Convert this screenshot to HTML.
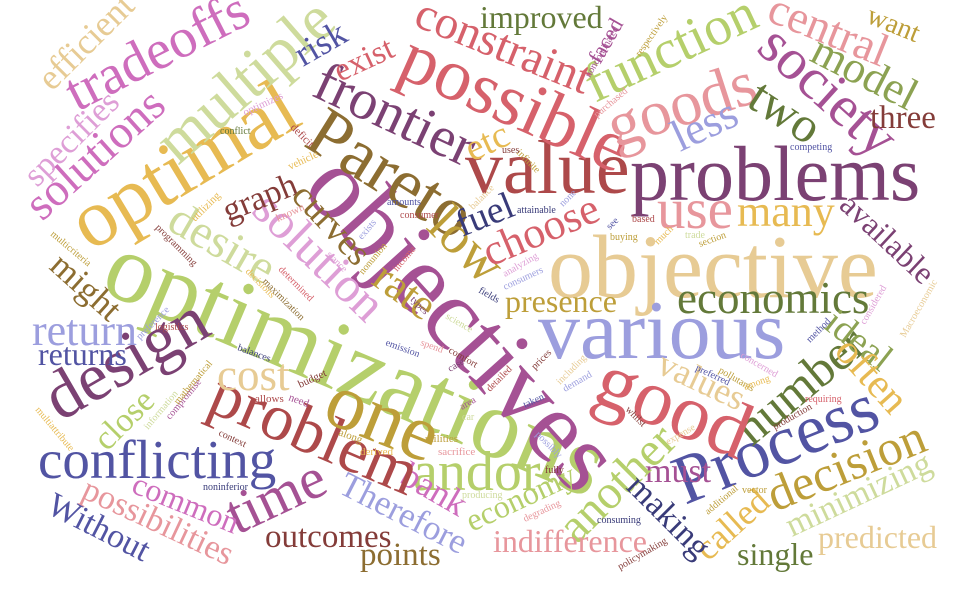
<!DOCTYPE html>
<html><head><meta charset="utf-8"><style>
html,body{margin:0;padding:0;background:#fff;}
svg{display:block;}
text{font-family:"Liberation Serif",serif;}
</style></head>
<body>
<svg id="cloud" width="960" height="600" viewBox="0 0 960 600" xmlns="http://www.w3.org/2000/svg"></svg>
<script>
// word, x, y, font-size, rotation, colour
const words = [
["objective",548,297,90,0,"#e7cb94"],
["problems",630,200,78,0,"#7b4173"],
["various",538,358,84,0,"#9c9ede"],
["value",465,193,76,0,"#ad494a"],
["optimizations",98,290,98,23,"#b5cf6b"],
["objectives",300,190,102,48,"#a55194"],
["Pareto",302,145,71,32,"#8c6d31"],
["optimal",90,252,82,-31,"#e7ba52"],
["multiple",178,166,64,-41,"#cedb9c"],
["possible",395,75,74,24,"#d6616b"],
["goods",615,148,64,-18,"#e7969c"],
["function",595,103,55,-25,"#b5cf6b"],
["constraint",412,25,47,22,"#d6616b"],
["frontier",310,95,57,25,"#7b4173"],
["society",755,50,58,42,"#a55194"],
["central",765,20,46,22,"#e7969c"],
["model",808,60,45,27,"#8ca252"],
["two",745,105,50,33,"#637939"],
["three",870,128,33,0,"#843c39"],
["want",865,22,28,22,"#bd9e39"],
["less",680,152,45,-25,"#9c9ede"],
["use",657,228,57,0,"#e7969c"],
["many",737,226,44,0,"#e7ba52"],
["available",838,207,32,43,"#7b4173"],
["economics",677,313,45,0,"#637939"],
["Process",685,505,70,-22,"#5254a3"],
["number",752,447,50,-40,"#637939"],
["ideal",822,327,38,38,"#8ca252"],
["often",833,352,42,48,"#e7ba52"],
["decision",775,512,50,-22,"#bd9e39"],
["minimizing",792,537,34,-25,"#cedb9c"],
["predicted",818,548,32,0,"#e7cb94"],
["single",737,565,32,0,"#637939"],
["called",708,562,36,-42,"#e7ba52"],
["good",590,400,80,22,"#d6616b"],
["values",655,372,36,25,"#e7cb94"],
["must",645,482,34,0,"#a55194"],
["another",577,545,48,-45,"#b5cf6b"],
["making",625,488,34,45,"#393b79"],
["andor",413,490,56,0,"#b5cf6b"],
["economy",472,532,32,-25,"#b5cf6b"],
["indifference",493,552,32,0,"#e7969c"],
["points",360,565,33,0,"#8c6d31"],
["outcomes",265,547,33,0,"#843c39"],
["Therefore",337,492,35,27,"#9c9ede"],
["bank",398,482,36,30,"#ce6dbd"],
["time",237,535,58,-25,"#a55194"],
["problem",205,410,66,23,"#ad494a"],
["one",320,420,80,22,"#bd9e39"],
["conflicting",38,478,55,0,"#5254a3"],
["design",60,422,68,-30,"#7b4173"],
["return",32,345,44,0,"#9c9ede"],
["returns",38,365,32,0,"#5254a3"],
["cost",217,390,45,0,"#e7cb94"],
["common",130,492,32,22,"#ce6dbd"],
["possibilities",80,497,34,25,"#e7969c"],
["Without",45,512,34,27,"#5254a3"],
["close",107,452,34,-45,"#b5cf6b"],
["might",48,268,35,42,"#8c6d31"],
["solution",250,212,50,44,"#de9ed6"],
["desire",165,228,48,30,"#cedb9c"],
["graph",228,222,34,-22,"#843c39"],
["curves",290,197,37,47,"#8c6d31"],
["rate",370,283,44,36,"#bd9e39"],
["low",425,228,55,45,"#bd9e39"],
["fuel",462,237,38,-22,"#393b79"],
["choose",490,267,44,-23,"#d6616b"],
["presence",505,312,32,0,"#bd9e39"],
["etc",472,162,38,-25,"#e7ba52"],
["exist",340,82,33,-25,"#d6616b"],
["risk",303,67,36,-30,"#5254a3"],
["tradeoffs",77,112,56,-27,"#ce6dbd"],
["efficient",52,92,36,-45,"#e7cb94"],
["solutions",42,222,47,-42,"#ce6dbd"],
["specifies",37,188,34,-45,"#de9ed6"],
["improved",480,28,32,0,"#637939"],
["conflict",220,134,10,0,"#637939"],
["optimizes",245,116,11,-25,"#de9ed6"],
["deficit",290,128,11,45,"#ad494a"],
["vehicle",290,170,11,-25,"#e7ba52"],
["utilizing",195,222,11,-45,"#e7ba52"],
["known",278,222,11,-25,"#e7969c"],
["programming",155,228,10,45,"#843c39"],
["multicriteria",50,235,10,40,"#bd9e39"],
["determined",278,270,10,45,"#d6616b"],
["maximization",262,282,10,45,"#8c6d31"],
["decisions",245,272,10,45,"#e7ba52"],
["preference",140,340,10,-45,"#9c9ede"],
["logistics",155,330,10,0,"#ad494a"],
["balances",237,350,10,20,"#393b79"],
["compromise",170,420,10,-50,"#a55194"],
["mathematical",178,405,10,-50,"#bd9e39"],
["information",148,430,10,-50,"#cedb9c"],
["context",218,435,10,25,"#843c39"],
["allows",255,402,11,0,"#ad494a"],
["need",288,400,11,20,"#a55194"],
["budget",300,388,11,-25,"#843c39"],
["along",338,435,11,20,"#bd9e39"],
["derived",360,455,11,0,"#e7ba52"],
["utilities",425,442,11,0,"#bd9e39"],
["sacrifice",438,455,11,0,"#e7969c"],
["multiattribute",35,410,10,50,"#e7ba52"],
["noninferior",203,490,10,0,"#393b79"],
["amounts",387,205,10,0,"#5254a3"],
["consumer",400,218,10,0,"#ad494a"],
["exists",362,240,10,-50,"#9c9ede"],
["stance",326,255,10,45,"#de9ed6"],
["nonunion",363,275,10,-50,"#bd9e39"],
["income",397,272,10,-50,"#d6616b"],
["types",410,300,10,45,"#7b4173"],
["emission",385,345,10,20,"#5254a3"],
["spend",420,345,10,20,"#e7969c"],
["science",445,318,10,30,"#cedb9c"],
["comfort",448,352,10,30,"#843c39"],
["case",450,372,10,-30,"#7b4173"],
["area",462,410,10,-30,"#a55194"],
["car",462,420,10,0,"#cedb9c"],
["detailed",490,392,10,-45,"#ad494a"],
["fields",478,292,10,30,"#393b79"],
["consumers",505,290,10,-25,"#9c9ede"],
["analyzing",505,277,10,-30,"#de9ed6"],
["balance",473,210,10,-45,"#e7cb94"],
["infinite",516,153,10,45,"#bd9e39"],
["uses",502,153,10,0,"#843c39"],
["attainable",517,213,10,0,"#393b79"],
["none",563,207,10,-45,"#9c9ede"],
["see",610,230,10,-45,"#5254a3"],
["based",632,222,10,0,"#ad494a"],
["buying",610,240,10,0,"#bd9e39"],
["much",658,245,10,-45,"#e7ba52"],
["trade",685,238,10,0,"#cedb9c"],
["section",700,247,10,-20,"#bd9e39"],
["competing",790,150,10,0,"#5254a3"],
["purchased",597,118,10,-40,"#e7969c"],
["respectively",640,57,10,-55,"#bd9e39"],
["nondominated",590,78,10,-60,"#a55194"],
["faced",600,65,22,-60,"#a55194"],
["prices",535,370,10,-45,"#843c39"],
["including",560,385,10,-45,"#e7cb94"],
["demand",565,392,10,-30,"#9c9ede"],
["taken",525,408,10,-25,"#5254a3"],
["possibly",535,435,10,45,"#9c9ede"],
["fully",545,473,10,0,"#843c39"],
["producing",462,498,10,0,"#cedb9c"],
["degrading",525,522,10,-25,"#e7969c"],
["consuming",597,523,10,0,"#393b79"],
["whilst",625,410,10,45,"#843c39"],
["expense",668,445,10,-30,"#e7cb94"],
["additional",708,515,10,-40,"#bd9e39"],
["vector",742,493,10,0,"#bd9e39"],
["policymaking",620,570,10,-30,"#843c39"],
["pollutants",718,372,10,30,"#bd9e39"],
["preferred",695,370,10,25,"#5254a3"],
["concerned",740,357,10,30,"#de9ed6"],
["among",745,390,10,-20,"#e7ba52"],
["requiring",805,402,10,0,"#d6616b"],
["production",775,430,10,-30,"#843c39"],
["method",810,343,10,-45,"#5254a3"],
["considered",865,325,10,-60,"#de9ed6"],
["Macroeconomic",905,338,10,-60,"#e7cb94"]
];
const svg = document.getElementById('cloud');
const NS = 'http://www.w3.org/2000/svg';
for (const w of words) {
  const t = document.createElementNS(NS, 'text');
  
  
  t.setAttribute('x', w[1]);
  t.setAttribute('y', w[2]);
  t.setAttribute('font-size', w[3]);
  t.setAttribute('fill', w[5]);
  if (w[4]) t.setAttribute('transform', 'rotate(' + w[4] + ' ' + w[1] + ' ' + w[2] + ')');
  t.textContent = w[0];
  svg.appendChild(t);
}
</script>
</body></html>
